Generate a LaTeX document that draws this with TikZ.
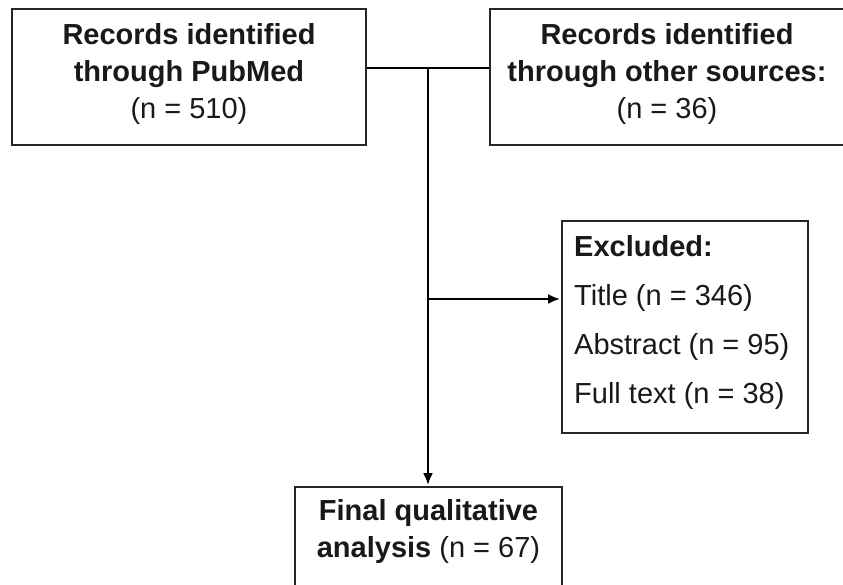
\documentclass[tikz,border=0pt]{standalone}
\usepackage{fontspec}
\setmainfont{Liberation Sans}
\usetikzlibrary{arrows.meta}

\tikzset{
  box/.style={draw=black!85, line width=1.8pt, rectangle, inner sep=0pt},
  txt/.style={inner sep=0pt, anchor=base, text=black!90, font=\fontsize{29}{29}\selectfont},
  ltxt/.style={txt, anchor=base west},
  link/.style={draw=black, line width=2.9pt},
  arrowlink/.style={link, -{Latex[length=12pt,width=10pt]}, shorten >=1pt}
}

\begin{document}
\begin{tikzpicture}[x=1pt, y=-1pt]
  \useasboundingbox (0,0) rectangle (843,584);
  \clip (0,0) rectangle (843,584);
  \fill[white] (0,0) rectangle (843,584);

  % boxes
  \node[box, minimum width=354pt, minimum height=136pt] (lb) at (189,77) {};
  \node[box, minimum width=354pt, minimum height=136pt] (rb) at (667,77) {};
  \node[box, minimum width=246pt, minimum height=212pt] (ex) at (685,327) {};
  \node[box, minimum width=267pt, minimum height=120pt] (fb) at (428.5,547) {};

  % PubMed box text
  \node[txt] (lb1) at (189,44) {\textbf{Records identified}};
  \node[txt] (lb2) at (189,81) {\textbf{through PubMed}};
  \node[txt] (lb3) at (189,118) {(n = 510)};

  % other sources box text
  \node[txt] (rb1) at (667,44) {\textbf{Records identified}};
  \node[txt] (rb2) at (667,81) {\textbf{through other sources:}};
  \node[txt] (rb3) at (667,118) {(n = 36)};

  % exclusion box text
  \node[ltxt] (ex1) at (574,256) {\textbf{Excluded:}};
  \node[ltxt] (ex2) at (574,305) {Title (n = 346)};
  \node[ltxt] (ex3) at (574,354) {Abstract (n = 95)};
  \node[ltxt] (ex4) at (574,403) {Full text (n = 38)};

  % final box text
  \node[txt] (fb1) at (428.5,520) {\textbf{Final qualitative}};
  \node[txt] (fb2) at (428.5,557) {\textbf{analysis} (n = 67)};

  % connectors
  \coordinate (j) at (428,68);
  \coordinate (k) at (428,299);
  \draw[link] (lb.east |- j) -- (rb.west |- j);
  \draw[arrowlink] (j) -- (j |- fb.north);
  \draw[arrowlink] (k) -- (ex.west |- k);
\end{tikzpicture}
\end{document}
